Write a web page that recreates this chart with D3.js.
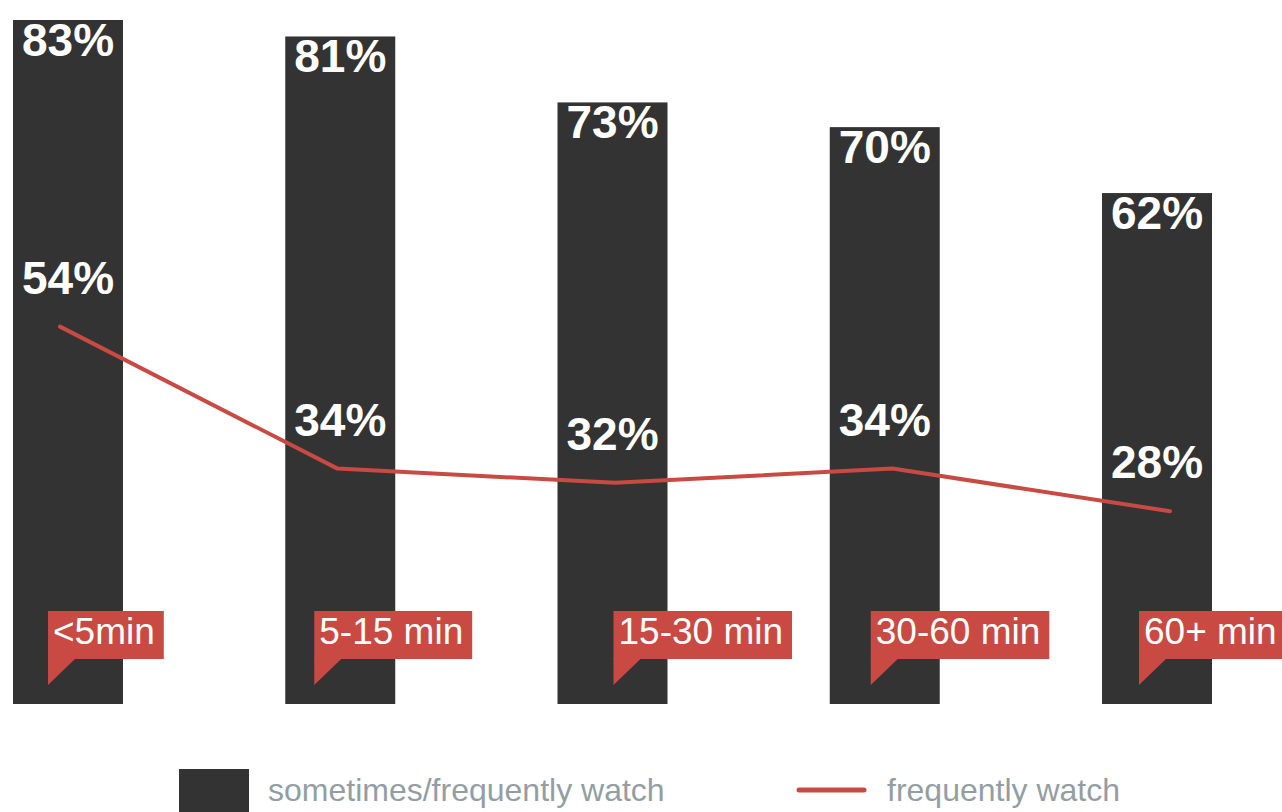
<!DOCTYPE html>
<html>
<head>
<meta charset="utf-8">
<script src="https://cdn.jsdelivr.net/npm/d3@7"></script>
<style>
  html, body { margin: 0; padding: 0; background: #fff; overflow: hidden; }
  svg { display: block; }
  text { font-family: "Liberation Sans", Arial, Helvetica, sans-serif; }
</style>
</head>
<body>
<svg id="chart" width="1282" height="812"></svg>
<script>
// ---- data ----
const categories = ["<5min", "5-15 min", "15-30 min", "30-60 min", "60+ min"];
const sometimesValues = [83, 81, 73, 70, 62];   // bars: sometimes/frequently watch (%)
const frequentValues = [54, 34, 32, 34, 28];    // line: frequently watch (%)
const legendLabels = ["sometimes/frequently watch", "frequently watch"];

// ---- layout (not data) ----
const W = 1282, H = 812;
const barColor = "#333333", red = "#c94a42", legendText = "#939ea3";
const calloutShift = [35, 29, 56, 41, 37]; // callout offset from bar left edge

const svg = d3.select("#chart");

const x = d3.scaleBand().domain(categories).range([13, 1212]).paddingInner(0.596).paddingOuter(0);
const yBar = d3.scaleLinear().domain([0, 83]).range([704, 20]);
const xLine = d3.scalePoint().domain(categories).range([60, 1170]);
const yLine = d3.scaleLinear().domain([0, 100]).range([710, 0]);

const barData = categories.map((c, i) => ({ c, v: sometimesValues[i], f: frequentValues[i], i }));

// bars
svg.append("g").selectAll("rect").data(barData).join("rect")
  .attr("x", d => x(d.c)).attr("width", x.bandwidth())
  .attr("y", d => yBar(d.v)).attr("height", d => yBar(0) - yBar(d.v))
  .attr("fill", barColor);

// bar value labels
svg.append("g").selectAll("text").data(barData).join("text")
  .attr("x", d => x(d.c) + 9).attr("y", d => yBar(d.v) + 36)
  .attr("fill", "#fff").attr("font-size", 46).attr("font-weight", "bold")
  .text(d => d.v + "%");

// line
const line = d3.line().x(d => xLine(d.c)).y(d => yLine(d.f));
svg.append("path").datum(barData).attr("d", line)
  .attr("fill", "none").attr("stroke", red).attr("stroke-width", 4)
  .attr("stroke-linejoin", "round").attr("stroke-linecap", "round");

// line value labels
svg.append("g").selectAll("text").data(barData).join("text")
  .attr("x", d => x(d.c) + 9).attr("y", d => yLine(d.f) - 33)
  .attr("fill", "#fff").attr("font-size", 46).attr("font-weight", "bold")
  .text(d => d.f + "%");

// category callouts
const cg = svg.append("g").selectAll("g").data(barData).join("g")
  .attr("transform", d => `translate(${x(d.c) + calloutShift[d.i]},611)`);
cg.append("path").attr("d", "M0,47 L28,47 L0,74 Z").attr("fill", red);
const crect = cg.append("rect").attr("x", 0).attr("y", 0).attr("height", 48).attr("fill", red);
const ctext = cg.append("text").attr("x", 5).attr("y", 33)
  .attr("fill", "#fff").attr("font-size", 37).text(d => d.c);
ctext.each(function(d) {
  const w = this.getComputedTextLength();
  d3.select(this.parentNode).select("rect").attr("width", w + 14);
});

// legend
const lg = svg.append("g");
lg.append("rect").attr("x", 179).attr("y", 769).attr("width", 70).attr("height", 50).attr("fill", barColor);
lg.append("text").attr("x", 268).attr("y", 801).attr("font-size", 32).attr("fill", legendText).text(legendLabels[0]);
lg.append("line").attr("x1", 799).attr("x2", 864).attr("y1", 790).attr("y2", 790)
  .attr("stroke", red).attr("stroke-width", 5).attr("stroke-linecap", "round");
lg.append("text").attr("x", 887).attr("y", 801).attr("font-size", 32).attr("fill", legendText).text(legendLabels[1]);
</script>
</body>
</html>
